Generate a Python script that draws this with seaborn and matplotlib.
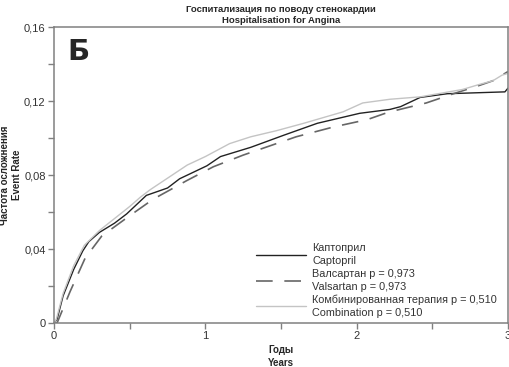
import pandas as pd
import matplotlib
matplotlib.use("Agg")
import matplotlib.pyplot as plt
import seaborn as sns
from matplotlib.ticker import MultipleLocator, FuncFormatter

# curves
capt_t = [0, 0.02, 0.06, 0.13, 0.19, 0.23, 0.30, 0.40, 0.48, 0.61, 0.75, 0.83,
          1.01, 1.10, 1.30, 1.52, 1.74, 2.02, 2.22, 2.29, 2.42, 2.60, 2.98, 3.0]
capt_y = [0, 0.002, 0.0147, 0.029, 0.039, 0.044, 0.049, 0.054, 0.059, 0.069, 0.073, 0.078,
          0.085, 0.090, 0.095, 0.1016, 0.108, 0.1134, 0.1155, 0.117, 0.122, 0.124, 0.125, 0.127]

vals_t = [0, 0.02, 0.106, 0.139, 0.205, 0.315, 0.50, 0.656, 0.745, 0.877, 1.053, 1.25,
          1.60, 1.846, 2.07, 2.21, 2.46, 2.64, 2.815, 2.90, 3.0]
vals_y = [0, 0.0, 0.017, 0.023, 0.035, 0.047, 0.058, 0.067, 0.071, 0.077, 0.0845, 0.0908,
          0.1007, 0.106, 0.110, 0.114, 0.119, 0.124, 0.1286, 0.131, 0.136]

comb_t = [0, 0.015, 0.06, 0.13, 0.2, 0.3, 0.5, 0.57, 0.634, 0.88, 1.0, 1.16, 1.30, 1.47,
          1.65, 1.91, 2.04, 2.22, 2.42, 2.70, 2.81, 2.90, 2.96, 3.0]
comb_y = [0, 0.002, 0.016, 0.031, 0.042, 0.050, 0.063, 0.068, 0.072, 0.0854, 0.090, 0.097,
          0.1007, 0.104, 0.108, 0.1142, 0.119, 0.121, 0.1223, 0.1263, 0.129, 0.131, 0.134, 0.135]

labels = ["Каптоприл\nCaptopril",
          "Валсартан p = 0,973\nValsartan p = 0,973",
          "Комбинированная терапия p = 0,510\nCombination p = 0,510"]

sns.set_style("ticks")
plt.rcParams['font.family'] = ['Liberation Sans Narrow', 'Liberation Sans', 'DejaVu Sans']

fig = plt.figure(figsize=(5.1, 3.67), dpi=100)
ax = fig.add_axes([0.106, 0.12, 0.89, 0.806])

sns.lineplot(x=capt_t, y=capt_y, ax=ax, color='#222222', lw=1.0, label=labels[0])
sns.lineplot(x=vals_t, y=vals_y, ax=ax, color='#666666', lw=1.2, label=labels[1],
             dashes=False, linestyle=(0, (10, 7)))
sns.lineplot(x=comb_t, y=comb_y, ax=ax, color='#c4c4c4', lw=1.0, label=labels[2])

ax.set_xlim(0, 3)
ax.set_ylim(0, 0.16)
ax.xaxis.set_major_locator(MultipleLocator(1))
ax.xaxis.set_minor_locator(MultipleLocator(0.5))
ax.yaxis.set_major_locator(MultipleLocator(0.04))
ax.yaxis.set_minor_locator(MultipleLocator(0.02))
ax.yaxis.set_major_formatter(FuncFormatter(lambda v, p: '0' if v == 0 else f'{v:.2f}'.replace('.', ',')))

for s in ax.spines.values():
    s.set_color('#808080')
    s.set_linewidth(1.1)
ax.tick_params(which='both', direction='out', length=4, width=1, color='#808080',
               labelsize=8, labelcolor='#333333', pad=2)

ax.set_title("Госпитализация по поводу стенокардии\nHospitalisation for Angina",
             fontsize=6.8, fontweight='bold', pad=3, linespacing=1.3)
ax.set_xlabel("Годы\nYears", fontsize=7, fontweight='bold', linespacing=1.3, labelpad=3)
ax.set_ylabel("Частота осложнения\nEvent Rate", fontsize=7, fontweight='bold', linespacing=1.3)
ax.yaxis.set_label_coords(-0.07, 0.5)

ax.text(0.03, 0.965, "Б", transform=ax.transAxes, fontsize=21, fontweight='bold',
        va='top', ha='left', family=['DejaVu Sans'])

leg = ax.legend(loc='lower right', bbox_to_anchor=(0.997, -0.015), frameon=False, fontsize=7.8,
                handlelength=4.6, handletextpad=0.6, labelspacing=0.3, labelcolor='#333333')
for t in leg.get_texts():
    t.set_linespacing(1.3)

fig.savefig("out.png", dpi=100)
